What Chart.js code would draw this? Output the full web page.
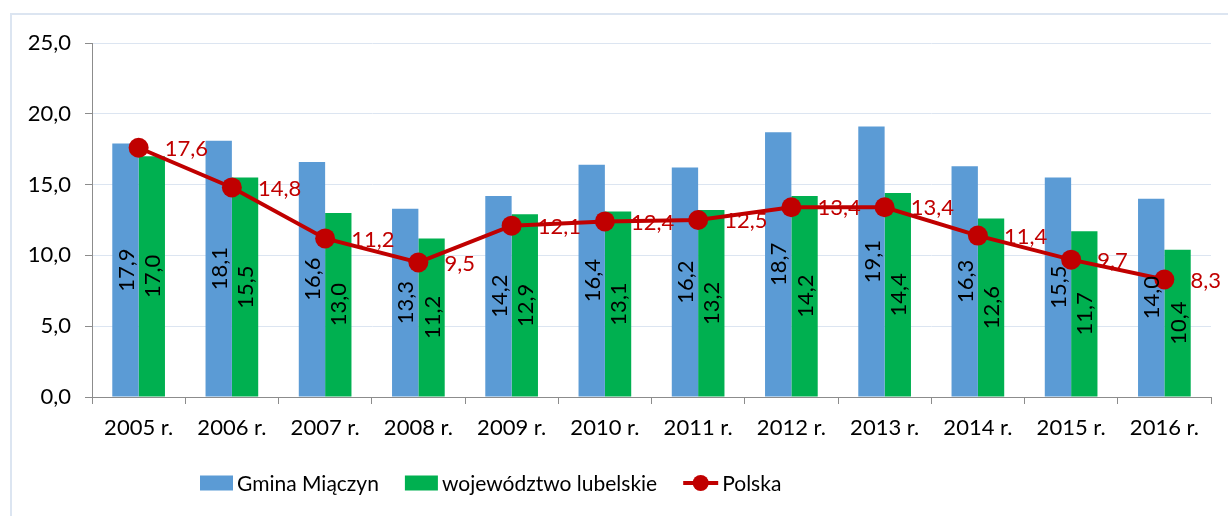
<!DOCTYPE html>
<html><head><meta charset="utf-8">
<script src="https://cdn.jsdelivr.net/npm/chart.js@4/dist/chart.umd.min.js"></script>
<style>html,body{margin:0;padding:0;background:#fff;overflow:hidden}#wrap{position:relative;width:1228px;height:516px}</style>
</head><body><div id="wrap"><canvas id="c" width="1228" height="516"></canvas></div>
<script>
const categories = ['2005 r.','2006 r.','2007 r.','2008 r.','2009 r.','2010 r.','2011 r.','2012 r.','2013 r.','2014 r.','2015 r.','2016 r.'];
const gminaMiaczyn = [17.9,18.1,16.6,13.3,14.2,16.4,16.2,18.7,19.1,16.3,15.5,14.0];
const lubelskie = [17.0,15.5,13.0,11.2,12.9,13.1,13.2,14.2,14.4,12.6,11.7,10.4];
const polska = [17.6,14.8,11.2,9.5,12.1,12.4,12.5,13.4,13.4,11.4,9.7,8.3];
const seriesNames = ['Gmina Miączyn','województwo lubelskie','Polska'];
const yTicks = [0,5,10,15,20,25];

const FONT = 'Lato';
const FS = 22;
const LFS = 21;
const fmt = v => v.toFixed(1).replace('.', ',');
const BLUE = '#5B9BD5', GREEN = '#00B050', RED = '#C00000';

const custom = {
  id: 'custom',
  beforeDraw(chart) {
    const ctx = chart.ctx;
    ctx.save();
    ctx.strokeStyle = '#DCE5F1';
    ctx.lineWidth = 2;
    ctx.strokeRect(11, 14, 1400, 700);
    ctx.restore();
  },
  afterDatasetsDraw(chart) {
    const ctx = chart.ctx;
    ctx.save();
    ctx.font = FS + 'px ' + FONT;
    [0, 1].forEach(di => {
      const meta = chart.getDatasetMeta(di);
      const data = chart.data.datasets[di].data;
      meta.data.forEach((el, i) => {
        const cy = (el.y + el.base) / 2;
        ctx.save();
        ctx.translate(el.x + 1, cy);
        ctx.rotate(-Math.PI / 2);
        ctx.fillStyle = '#000';
        ctx.textAlign = 'center';
        ctx.textBaseline = 'middle';
        ctx.fillText(fmt(data[i]), 0, 0);
        ctx.restore();
      });
    });
    const lm = chart.getDatasetMeta(2);
    const ld = chart.data.datasets[2].data;
    lm.data.forEach((el, i) => {
      ctx.fillStyle = RED;
      ctx.textAlign = 'left';
      ctx.textBaseline = 'middle';
      ctx.fillText(fmt(ld[i]), el.x + 26, el.y + 1);
    });
    ctx.restore();
  },
  afterDraw(chart) {
    const ctx = chart.ctx;
    ctx.save();
    ctx.font = LFS + 'px ' + FONT;
    ctx.textBaseline = 'middle';
    ctx.textAlign = 'left';
    const cy = 483;
    const ds = chart.data.datasets;
    const sym = d => d.type === 'line' ? 35 : 33;
    const items = ds.map(d => sym(d) + 4 + ctx.measureText(d.label).width);
    const gap = 26;
    const total = items.reduce((a, b) => a + b, 0) + gap * (items.length - 1);
    let x = Math.round(491 - total / 2);
    ds.forEach((d, i) => {
      if (d.type === 'line') {
        ctx.strokeStyle = d.borderColor;
        ctx.lineWidth = 4;
        ctx.beginPath(); ctx.moveTo(x, cy); ctx.lineTo(x + 35, cy); ctx.stroke();
        ctx.fillStyle = d.pointBackgroundColor;
        ctx.beginPath(); ctx.arc(x + 17.5, cy, 8, 0, Math.PI * 2); ctx.fill();
      } else {
        ctx.fillStyle = d.backgroundColor;
        ctx.fillRect(x, cy - 7.5, 33, 15);
      }
      ctx.fillStyle = '#000';
      ctx.fillText(d.label, x + sym(d) + 4, cy + 1);
      x += items[i] + gap;
    });
    ctx.restore();
  }
};

new Chart(document.getElementById('c'), {
  data: {
    labels: categories,
    datasets: [
      {type: 'bar', label: seriesNames[0], data: gminaMiaczyn, backgroundColor: BLUE, order: 2,
       categoryPercentage: 0.565, barPercentage: 1.0},
      {type: 'bar', label: seriesNames[1], data: lubelskie, backgroundColor: GREEN, order: 2,
       categoryPercentage: 0.565, barPercentage: 1.0},
      {type: 'line', label: seriesNames[2], data: polska, borderColor: RED, borderWidth: 4,
       pointBackgroundColor: RED, pointBorderColor: RED, pointRadius: 10, pointBorderWidth: 0,
       tension: 0, order: 1}
    ]
  },
  options: {
    responsive: false,
    animation: false,
    devicePixelRatio: 1,
    layout: {padding: {left: 0, right: 17, top: 43, bottom: 70}},
    plugins: {legend: {display: false}, tooltip: {enabled: false}},
    scales: {
      x: {
        offset: true,
        grid: {offset: true, drawOnChartArea: false, drawTicks: true, tickLength: 7, tickColor: '#8C8C8C', color: '#8C8C8C'},
        border: {color: '#8C8C8C', width: 1},
        ticks: {font: {family: FONT, size: FS}, color: '#000', padding: 11, maxRotation: 0},
        afterFit(s) { s.height = 49; }
      },
      y: {
        min: 0, max: 25,
        afterBuildTicks(s) { s.ticks = yTicks.map(v => ({value: v})); },
        grid: {color: '#DCE5F1', tickColor: '#8C8C8C', tickLength: 7, lineWidth: 1},
        border: {color: '#8C8C8C', width: 1},
        ticks: {font: {family: FONT, size: FS}, color: '#000', padding: 14, callback: v => fmt(v)},
        afterFit(s) { s.width = 92; }
      }
    }
  },
  plugins: [custom]
});
</script></body></html>
